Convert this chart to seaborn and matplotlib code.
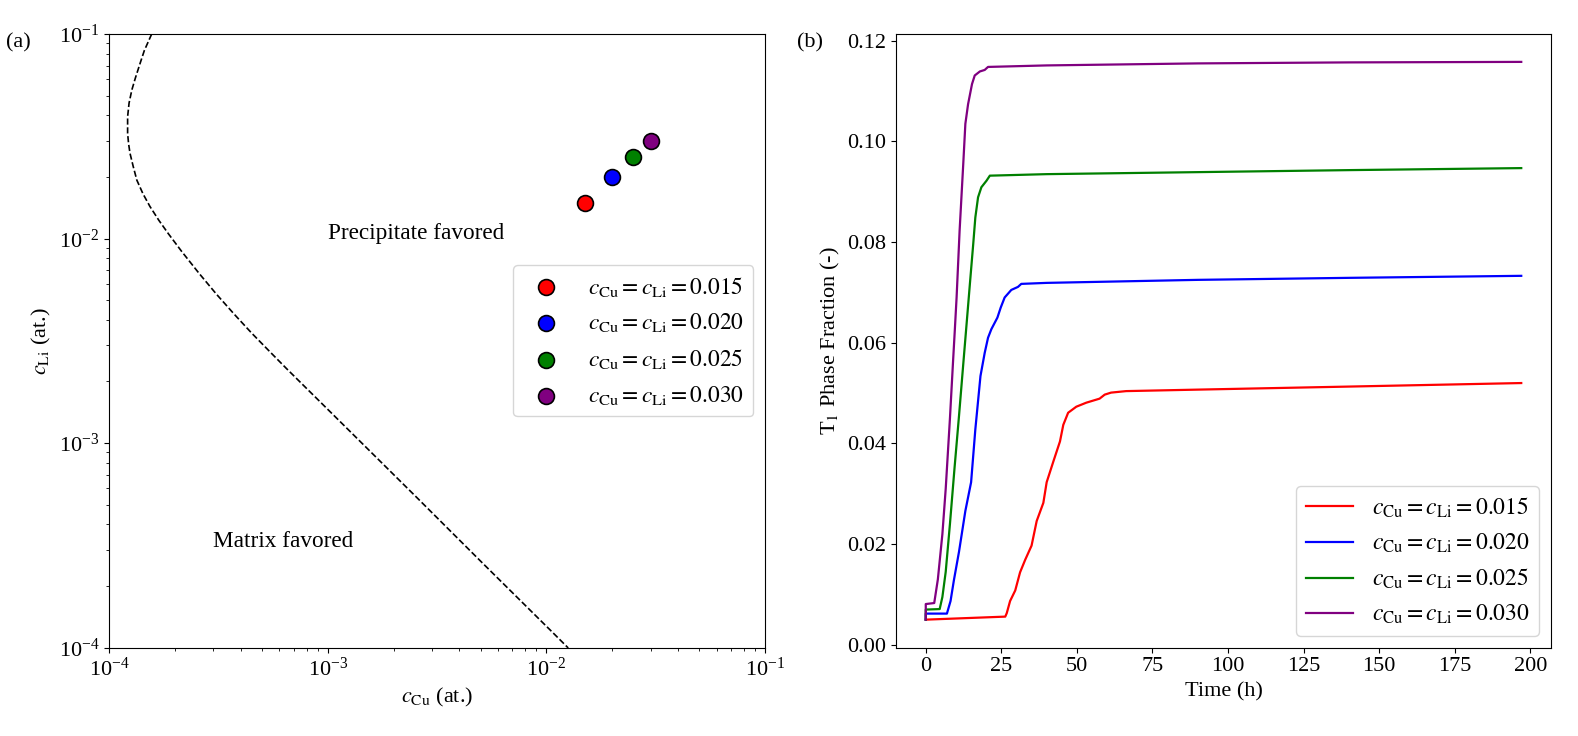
import numpy as np
import pandas as pd
import matplotlib
matplotlib.use("Agg")
import matplotlib.pyplot as plt
import seaborn as sns

plt.rcParams['font.family'] = ['Liberation Serif', 'DejaVu Serif']
plt.rcParams['mathtext.fontset'] = 'stix'
plt.rcParams['font.size'] = 16

# ---------------- data ----------------
conc = [0.015, 0.020, 0.025, 0.030]
colors = ['red', 'blue', 'green', 'purple']
labels = [r'$c_{\rm Cu} = c_{\rm Li} = 0.015$',
          r'$c_{\rm Cu} = c_{\rm Li} = 0.020$',
          r'$c_{\rm Cu} = c_{\rm Li} = 0.025$',
          r'$c_{\rm Cu} = c_{\rm Li} = 0.030$']

# phase boundary (panel a)
boundary_cu = [1.567e-4, 1.450e-4, 1.387e-4, 1.320e-4, 1.271e-4, 1.235e-4, 1.216e-4,
               1.216e-4, 1.228e-4, 1.247e-4, 1.290e-4, 1.340e-4, 1.429e-4, 1.538e-4,
               1.690e-4, 1.866e-4, 2.148e-4, 2.582e-4, 3.105e-4, 3.733e-4, 4.487e-4,
               5.395e-4, 6.486e-4, 1.265e-3, 2.553e-3, 5.140e-3, 1.038e-2, 1.259e-2]
boundary_li = [0.1000, 0.0830, 0.0719, 0.0610, 0.0532, 0.0460, 0.0394,
               0.0327, 0.0292, 0.0261, 0.0225, 0.0193, 0.01656, 0.01435,
               0.01227, 0.01057, 8.65e-3, 6.75e-3, 5.33e-3, 4.27e-3, 3.45e-3,
               2.82e-3, 2.31e-3, 1.140e-3, 5.42e-4, 2.57e-4, 1.222e-4, 9.95e-5]

# phase fraction vs time (panel b)
time_015 = [0, 26.3, 26.8, 27.9, 29.6, 31.2, 32.9, 35.0, 36.7, 38.9, 40.0, 42.2, 44.4,
            45.5, 47.1, 49.8, 53.1, 57.5, 59.2, 61.3, 66.3, 90.4, 140, 197]
frac_015 = [0.0050, 0.0056, 0.0063, 0.0087, 0.0108, 0.0144, 0.0169, 0.0197, 0.0246,
            0.0282, 0.0323, 0.0364, 0.0404, 0.0437, 0.0461, 0.0473, 0.0481, 0.0489,
            0.0497, 0.0501, 0.0504, 0.0507, 0.0513, 0.0520]

time_020 = [0, 0, 7.0, 8.2, 9.3, 11.0, 13.1, 15.0, 16.4, 18.1, 19.5, 20.6, 21.7, 23.7,
            24.8, 26.1, 28.3, 30.5, 31.6, 40, 90, 140, 197]
frac_020 = [0.0050, 0.0062, 0.0062, 0.0087, 0.0128, 0.0185, 0.0266, 0.0323, 0.0428,
            0.0534, 0.0580, 0.0610, 0.0627, 0.0650, 0.0670, 0.0690, 0.0705, 0.0711,
            0.0717, 0.0719, 0.0725, 0.0729, 0.0733]

time_025 = [0, 0, 4.6, 5.5, 6.6, 8.0, 9.5, 11.0, 12.3, 13.5, 14.6, 15.7, 16.4, 17.3,
            18.4, 20.1, 21.2, 40, 90, 140, 197]
frac_025 = [0.0050, 0.0070, 0.0071, 0.0095, 0.0145, 0.0240, 0.0350, 0.0455, 0.0550,
            0.0637, 0.0717, 0.0796, 0.0849, 0.0889, 0.0909, 0.0922, 0.0932, 0.0935,
            0.0939, 0.0943, 0.0947]

time_030 = [0, 0, 2.8, 4.0, 5.5, 6.6, 8.0, 9.0, 9.6, 10.2, 11.2, 12.4, 13.1, 14.0,
            15.3, 16.2, 17.9, 19.5, 20.6, 40, 90, 140, 197]
frac_030 = [0.0050, 0.0081, 0.0083, 0.0130, 0.0220, 0.0310, 0.0450, 0.0560, 0.0624,
            0.0690, 0.0823, 0.0955, 0.1035, 0.1074, 0.1114, 0.1131, 0.1139, 0.1142,
            0.1148, 0.1151, 0.1155, 0.1157, 0.1158]

times = [time_015, time_020, time_025, time_030]
fracs = [frac_015, frac_020, frac_025, frac_030]

# ---------------- figure ----------------
fig = plt.figure(figsize=(15.78, 7.36), dpi=100)
ax1 = fig.add_axes([0.0691, 0.1202, 0.4157, 0.8336])
ax2 = fig.add_axes([0.5678, 0.1202, 0.4151, 0.8336])

# panel (a)
ax1.set_xscale('log')
ax1.set_yscale('log')
sns.lineplot(x=boundary_cu, y=boundary_li, sort=False, estimator=None,
             color='black', linestyle='--', linewidth=1.2, ax=ax1)
for c, col, lab in zip(conc, colors, labels):
    sns.scatterplot(x=[c], y=[c], color=col, edgecolor='black', linewidth=1.2,
                    s=130, label=lab, ax=ax1, zorder=3)
ax1.set_xlim(1e-4, 1e-1)
ax1.set_ylim(1e-4, 1e-1)
ax1.text(1e-3, 1e-2, 'Precipitate favored', fontsize=16.75)
ax1.text(3e-4, 3.1e-4, 'Matrix favored', fontsize=16.75)
ax1.set_xlabel(r'$c_{\rm Cu}$ (at.)')
ax1.set_ylabel(r'$c_{\rm Li}$ (at.)')
ax1.legend(loc='center right', fontsize=16.8, labelspacing=0.55)

# panel (b)
for t, f, col, lab in zip(times, fracs, colors, labels):
    sns.lineplot(x=t, y=f, sort=False, estimator=None, color=col,
                 linewidth=1.6, label=lab, ax=ax2)
ax2.set_xticks([0, 25, 50, 75, 100, 125, 150, 175, 200])
ax2.set_yticks([0.00, 0.02, 0.04, 0.06, 0.08, 0.10, 0.12])
ax2.set_xlabel('Time (h)')
ax2.set_ylabel(r'T$_1$ Phase Fraction (-)')
ax2.legend(loc='lower right', fontsize=17)

fig.text(0.004, 0.9416, '(a)', va='center', fontsize=16)
fig.text(0.505, 0.9416, '(b)', va='center', fontsize=16)

fig.savefig('out.png', dpi=100)
